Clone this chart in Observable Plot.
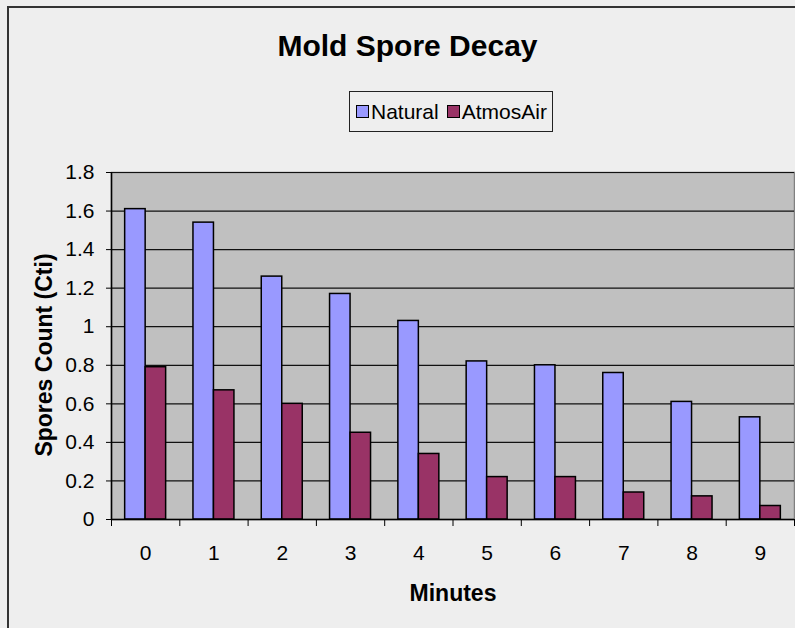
<!DOCTYPE html>
<html>
<head>
<meta charset="utf-8">
<script src="https://cdn.jsdelivr.net/npm/d3@7"></script>
<script src="https://cdn.jsdelivr.net/npm/@observablehq/plot@0.6"></script>
<style>
  html, body { margin: 0; padding: 0; background: #eeeeee; overflow: hidden; width: 795px; height: 628px; }
  #border { position: absolute; left: 7px; top: 6px; width: 820px; height: 640px; border-left: 2px solid #333; border-top: 2px solid #333; box-sizing: border-box; }
  #chart { position: absolute; left: 0; top: 0; }
  #title { position: absolute; left: 0; width: 815px; top: 31px; text-align: center; font: bold 30px/30px "Liberation Sans", Arial, sans-serif; color: #000; }
  #legend { position: absolute; left: 349px; top: 91px; width: 204px; height: 41px; box-sizing: border-box; border: 1px solid #222; display: flex; align-items: center; padding-left: 6px; font: 21px "Liberation Sans", Arial, sans-serif; color: #000; }
  #legend .sw { width: 13px; height: 13px; box-sizing: border-box; border: 1.5px solid #000; margin-right: 2px; }
  #legend .item { display: flex; align-items: center; margin-right: 8px; }
</style>
</head>
<body>
<div id="border"></div>
<div id="chart"></div>
<div id="title"></div>
<div id="legend"></div>
<script>
// ---- data ----
const chartTitle = "Mold Spore Decay";
const xTitle = "Minutes";
const yTitle = "Spores Count (Cti)";
const minutes = [0, 1, 2, 3, 4, 5, 6, 7, 8, 9];
const seriesNames = ["Natural", "AtmosAir"];
const seriesColors = ["#9999ff", "#993366"];
const natural = [1.61, 1.54, 1.26, 1.17, 1.03, 0.82, 0.80, 0.76, 0.61, 0.53];
const atmosAir = [0.79, 0.67, 0.60, 0.45, 0.34, 0.22, 0.22, 0.14, 0.12, 0.07];
const yTicks = [0, 0.2, 0.4, 0.6, 0.8, 1, 1.2, 1.4, 1.6, 1.8];

// ---- build table ----
const barW = 0.3;
const rows = [];
minutes.forEach((m, i) => {
  rows.push({minute: m, series: "Natural", value: natural[i], off: -1});
  rows.push({minute: m, series: "AtmosAir", value: atmosAir[i], off: 0});
});
const bounds = minutes.map(m => m - 0.5).concat([minutes[minutes.length - 1] + 0.5]);

const plot = Plot.plot({
  width: 795,
  height: 628,
  marginLeft: 111,
  marginRight: 1,
  marginTop: 172,
  marginBottom: 109,
  style: {background: "transparent", fontFamily: "'Liberation Sans', Arial, sans-serif", fontSize: "21px", color: "#000", overflow: "visible"},
  x: {domain: [bounds[0], bounds[bounds.length - 1]]},
  y: {domain: [0, 1.8]},
  color: {domain: seriesNames, range: seriesColors},
  marks: [
    Plot.frame({fill: "#c0c0c0", stroke: "#808080", strokeWidth: 1.5}),
    Plot.ruleY(yTicks, {stroke: "#111", strokeWidth: 1.2}),
    Plot.rectY(rows, {
      x1: d => d.minute + d.off * barW,
      x2: d => d.minute + (d.off + 1) * barW,
      y1: 0,
      y2: "value",
      fill: "series",
      stroke: "#000",
      strokeWidth: 1.5
    }),
    Plot.ruleX([bounds[0]], {stroke: "#000", strokeWidth: 1.5}),
    Plot.ruleY([0], {stroke: "#000", strokeWidth: 1.5}),
    Plot.axisY({ticks: yTicks, tickSize: 5, tickPadding: 12, tickFormat: d => String(+d.toFixed(2)), label: null, stroke: "#000"}),
    Plot.axisX({ticks: minutes, tickSize: 0, tickPadding: 26, tickFormat: d => String(d), label: null}),
    Plot.axisX({ticks: bounds, tickSize: 7, tickFormat: () => "", label: null, stroke: "#000"}),
    Plot.text([xTitle], {frameAnchor: "bottom", textAnchor: "middle", lineAnchor: "middle", dy: 74, fontWeight: "bold", fontSize: 23}),
    Plot.text([yTitle], {frameAnchor: "left", textAnchor: "middle", lineAnchor: "middle", rotate: -90, dx: -67, dy: 9, fontWeight: "bold", fontSize: 23})
  ]
});
document.getElementById("chart").appendChild(plot);

document.getElementById("title").textContent = chartTitle;
const legend = document.getElementById("legend");
seriesNames.forEach((name, i) => {
  const item = document.createElement("div");
  item.className = "item";
  const sw = document.createElement("div");
  sw.className = "sw";
  sw.style.background = seriesColors[i];
  const t = document.createElement("span");
  t.textContent = name;
  item.appendChild(sw);
  item.appendChild(t);
  legend.appendChild(item);
});
</script>
</body>
</html>
